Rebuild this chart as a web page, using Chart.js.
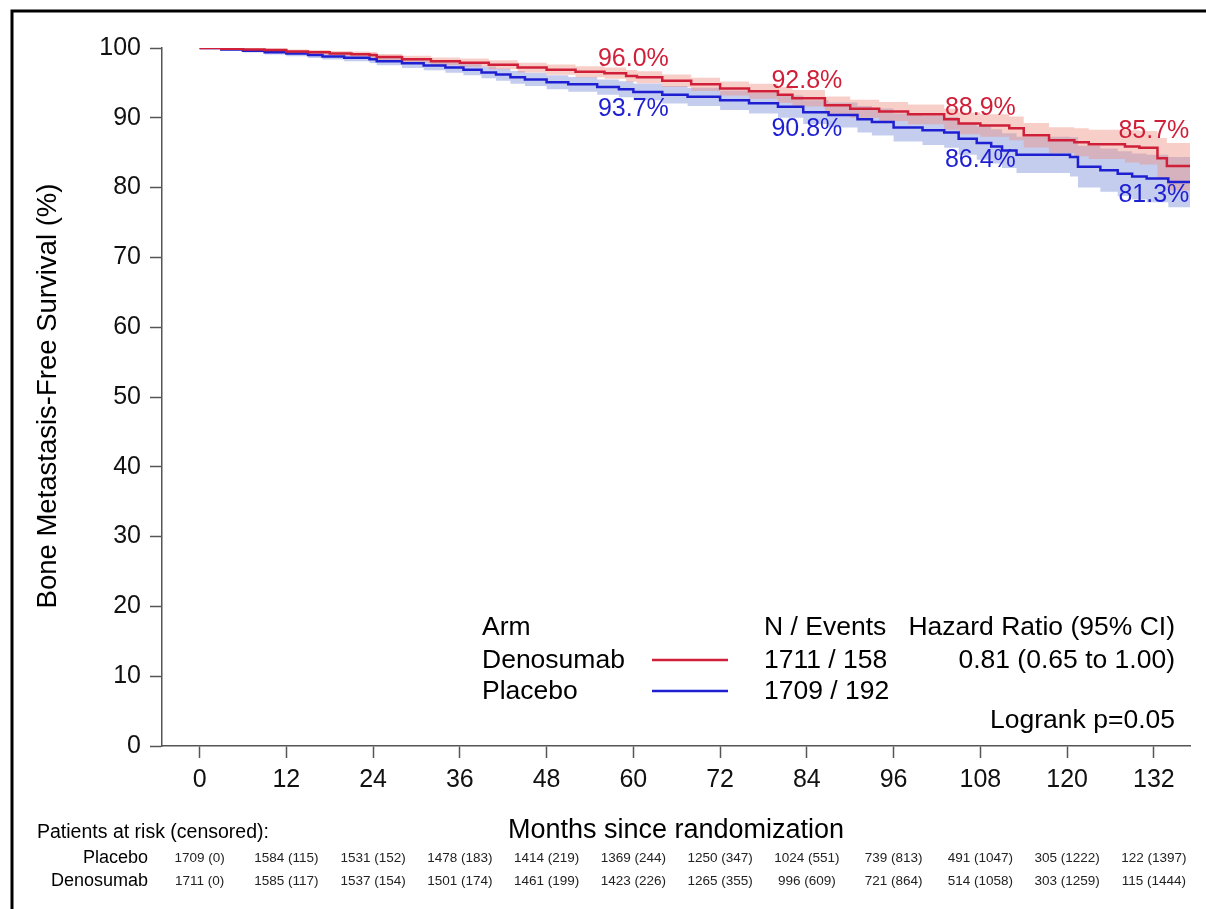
<!DOCTYPE html>
<html>
<head>
<meta charset="utf-8">
<script src="https://cdn.jsdelivr.net/npm/chart.js@4.4.1/dist/chart.umd.min.js"></script>
<style>
  body { margin: 0; background: #fff; }
  canvas { display: block; }
</style>
</head>
<body>
<canvas id="km" width="1206" height="909"></canvas>
<script>
// tick labels
const xTicks = [0, 12, 24, 36, 48, 60, 72, 84, 96, 108, 120, 132];
const yTicks = [0, 10, 20, 30, 40, 50, 60, 70, 80, 90, 100];

// Denosumab KM estimate and 95% band
const denoTime = [0, 3, 6, 9, 12, 15, 18, 21, 23.5, 24.5, 28, 32, 36, 40, 44, 48, 52, 56, 59, 60.5,
  64, 68, 72, 76, 80, 82, 86.5, 90, 94, 98, 103, 105, 108, 112, 114, 117.5, 121, 123, 128, 130,
  132.5, 133.8, 137];
const denoSurv = [100, 99.9, 99.8, 99.7, 99.5, 99.4, 99.2, 99.1, 99.0, 98.7, 98.4, 98.1, 97.9, 97.6, 97.2, 96.9, 96.6, 96.4, 96.0, 95.8,
  95.3, 94.8, 94.2, 93.8, 93.3, 92.8, 91.8, 91.3, 90.9, 90.5, 89.8, 89.2, 88.9, 88.5, 87.5, 86.8, 86.5, 86.2, 85.9, 85.7,
  84.2, 83.1, 83.1];
const denoUpper = [100, 99.98, 99.95, 99.92, 99.8, 99.73, 99.57, 99.5, 99.43, 99.15, 98.9, 98.65, 98.5, 98.25, 97.9, 97.65, 97.38, 97.22, 96.85, 96.66,
  96.2, 95.75, 95.2, 94.87, 94.43, 93.97, 93.04, 92.6, 92.25, 91.92, 91.3, 90.75, 90.5, 90.2, 89.25, 88.65, 88.5, 88.3, 88.2, 88.1,
  87.1, 86.4, 86.4];
const denoLower = [100, 99.82, 99.65, 99.48, 99.2, 99.07, 98.83, 98.7, 98.57, 98.25, 97.9, 97.55, 97.3, 96.95, 96.5, 96.15, 95.82, 95.58, 95.15, 94.94,
  94.4, 93.85, 93.2, 92.73, 92.17, 91.63, 90.56, 90.0, 89.55, 89.08, 88.3, 87.65, 87.3, 86.8, 85.75, 84.95, 84.5, 84.1, 83.6, 83.3,
  81.3, 79.6, 79.6];

// Placebo KM estimate and 95% band
const plaTime = [0, 3, 6, 9, 12, 15, 17, 20, 23.5, 24.5, 28, 31, 34, 36.5, 39, 41, 43, 45, 48, 51,
  55, 58, 60, 64, 67.5, 72, 76, 80, 83.5, 87, 91, 93, 96, 100, 103, 105, 107.5, 109.5, 111, 113,
  120.4, 121.5, 124.6, 127, 129, 131, 134, 137];
const plaSurv = [100, 99.8, 99.6, 99.4, 99.2, 99.0, 98.8, 98.6, 98.4, 98.1, 97.8, 97.5, 97.2, 96.9, 96.5, 96.2, 95.8, 95.5, 95.1, 94.8,
  94.4, 94.1, 93.7, 93.3, 93.0, 92.5, 92.1, 91.6, 90.8, 90.4, 89.8, 89.4, 88.6, 88.2, 87.9, 87.0, 86.4, 85.9, 85.3, 84.7,
  84.4, 83.0, 82.5, 82.0, 81.6, 81.3, 80.8, 80.8];
const plaUpper = [100, 99.95, 99.85, 99.72, 99.58, 99.42, 99.26, 99.1, 98.95, 98.68, 98.45, 98.2, 97.95, 97.7, 97.35, 97.08, 96.72, 96.45, 96.1, 95.85,
  95.5, 95.25, 94.9, 94.55, 94.3, 93.9, 93.6, 93.2, 92.5, 92.2, 91.7, 91.35, 90.6, 90.3, 90.1, 89.3, 88.8, 88.35, 87.8, 87.3,
  87.2, 86.0, 85.6, 85.2, 84.9, 84.7, 84.4, 84.4];
const plaLower = [100, 99.65, 99.35, 99.08, 98.82, 98.58, 98.34, 98.1, 97.85, 97.52, 97.15, 96.8, 96.45, 96.1, 95.65, 95.32, 94.88, 94.55, 94.1, 93.75,
  93.3, 92.95, 92.5, 92.05, 91.7, 91.1, 90.6, 90.0, 89.1, 88.6, 87.9, 87.45, 86.6, 86.1, 85.7, 84.7, 84.0, 83.45, 82.8, 82.1,
  81.6, 80.0, 79.4, 78.8, 78.3, 77.9, 77.2, 77.2];

// landmark estimates printed on the plot
const markTimes = [60, 84, 108, 132];
const denoMarks = ['96.0%', '92.8%', '88.9%', '85.7%'];
const plaMarks = ['93.7%', '90.8%', '86.4%', '81.3%'];
const denoMarkVals = [96.0, 92.8, 88.9, 85.7];
const plaMarkVals = [93.7, 90.8, 86.4, 81.3];

// patients at risk (censored)
const plaRisk = ['1709 (0)', '1584 (115)', '1531 (152)', '1478 (183)', '1414 (219)', '1369 (244)',
  '1250 (347)', '1024 (551)', '739 (813)', '491 (1047)', '305 (1222)', '122 (1397)'];
const denoRisk = ['1711 (0)', '1585 (117)', '1537 (154)', '1501 (174)', '1461 (199)', '1423 (226)',
  '1265 (355)', '996 (609)', '721 (864)', '514 (1058)', '303 (1259)', '115 (1444)'];

const RED = '#d01f38';
const BLUE = '#1f1fd2';
const FONT = '"Liberation Sans", Arial, sans-serif';

function pts(t, v) { return t.map((x, i) => ({ x: x, y: v[i] })); }

function band(t, v, color, fill) {
  return {
    data: pts(t, v), stepped: 'before', borderWidth: 0, pointRadius: 0,
    backgroundColor: color, fill: fill, order: 1
  };
}

const extras = {
  id: 'extras',
  beforeDraw(chart) {
    const c = chart.ctx;
    c.save();
    c.fillStyle = '#fff';
    c.fillRect(0, 0, chart.width, chart.height);
    c.restore();
  },
  afterDraw(chart) {
    const c = chart.ctx;
    const xs = chart.scales.x, ys = chart.scales.y;
    c.save();

    // frame
    c.strokeStyle = '#000';
    c.lineWidth = 3;
    c.beginPath();
    c.moveTo(12, 909); c.lineTo(12, 11); c.lineTo(1206, 11);
    c.stroke();

    // landmark labels
    c.font = '25px ' + FONT;
    c.textAlign = 'center';
    c.textBaseline = 'middle';
    markTimes.forEach((t, i) => {
      const x = xs.getPixelForValue(t);
      c.fillStyle = RED;
      c.fillText(denoMarks[i], x, ys.getPixelForValue(denoMarkVals[i]) - 17);
      c.fillStyle = BLUE;
      c.fillText(plaMarks[i], x, ys.getPixelForValue(plaMarkVals[i]) + 17);
    });

    // legend block
    c.fillStyle = '#000';
    c.font = '26.5px ' + FONT;
    c.textAlign = 'left';
    c.fillText('Arm', 482, 628);
    c.fillText('Denosumab', 482, 661);
    c.fillText('Placebo', 482, 692);
    c.fillText('N / Events', 764, 628);
    c.fillText('1711 / 158', 764, 661);
    c.fillText('1709 / 192', 764, 692);
    c.textAlign = 'right';
    c.fillText('Hazard Ratio (95% CI)', 1175, 628);
    c.fillText('0.81 (0.65 to 1.00)', 1175, 661);
    c.fillText('Logrank p=0.05', 1175, 721);
    c.lineWidth = 2.5;
    c.strokeStyle = RED;
    c.beginPath(); c.moveTo(652, 660); c.lineTo(728, 660); c.stroke();
    c.strokeStyle = BLUE;
    c.beginPath(); c.moveTo(652, 691); c.lineTo(728, 691); c.stroke();

    // axis titles
    c.textAlign = 'center';
    c.font = '27px ' + FONT;
    c.fillText('Months since randomization', 676, 831);
    c.save();
    c.translate(48, 396);
    c.rotate(-Math.PI / 2);
    c.font = '27.5px ' + FONT;
    c.fillText('Bone Metastasis-Free Survival (%)', 0, 0);
    c.restore();

    // risk table
    c.textAlign = 'left';
    c.font = '19.5px ' + FONT;
    c.fillText('Patients at risk (censored):', 37, 833);
    c.textAlign = 'right';
    c.font = '18px ' + FONT;
    c.fillText('Placebo', 148, 858);
    c.fillText('Denosumab', 148, 881);
    c.textAlign = 'center';
    c.font = '13.5px ' + FONT;
    c.fillStyle = '#222';
    xTicks.forEach((t, i) => {
      const x = xs.getPixelForValue(t);
      c.fillText(plaRisk[i], x, 858);
      c.fillText(denoRisk[i], x, 881);
    });
    c.restore();
  }
};

new Chart(document.getElementById('km'), {
  type: 'line',
  data: {
    datasets: [
      { data: pts(denoTime, denoSurv), stepped: 'before', borderColor: RED, borderWidth: 2.5, pointRadius: 0, fill: false, order: 0 },
      { data: pts(plaTime, plaSurv), stepped: 'before', borderColor: BLUE, borderWidth: 2.5, pointRadius: 0, fill: false, order: 0 },
      band(denoTime, denoUpper, 'rgba(236,140,125,0.42)', '+1'),
      band(denoTime, denoLower, 'rgba(0,0,0,0)', false),
      band(plaTime, plaUpper, 'rgba(115,135,215,0.42)', '+1'),
      band(plaTime, plaLower, 'rgba(0,0,0,0)', false)
    ]
  },
  options: {
    responsive: false,
    animation: false,
    layout: { padding: { left: 0, top: 48, right: 16, bottom: 63 } },
    plugins: { legend: { display: false }, tooltip: { enabled: false } },
    scales: {
      x: {
        type: 'linear', min: -5.2, max: 137,
        afterFit: s => { s.height = 100; },
        afterBuildTicks: s => { s.ticks = xTicks.map(v => ({ value: v })); },
        grid: { drawOnChartArea: false, drawTicks: true, tickLength: 12, tickColor: '#555', tickWidth: 1.5 },
        border: { display: true, color: '#555', width: 1.5 },
        ticks: { color: '#111', font: { family: FONT, size: 25 }, padding: 7, maxRotation: 0, autoSkip: false }
      },
      y: {
        type: 'linear', min: 0, max: 100,
        afterFit: s => { s.width = 162; },
        afterBuildTicks: s => { s.ticks = yTicks.map(v => ({ value: v })); },
        grid: { drawOnChartArea: false, drawTicks: true, tickLength: 12, tickColor: '#555', tickWidth: 1.5 },
        border: { display: true, color: '#555', width: 1.5 },
        ticks: { color: '#111', font: { family: FONT, size: 25 }, padding: 9 }
      }
    }
  },
  plugins: [extras]
});
</script>
</body>
</html>
